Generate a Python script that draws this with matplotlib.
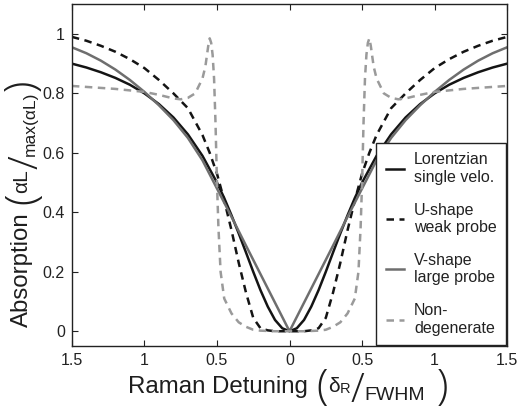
import numpy as np
import matplotlib
matplotlib.use('Agg')
import matplotlib.pyplot as plt
from matplotlib import font_manager
from matplotlib.transforms import IdentityTransform

# positive half only (curves are symmetric in detuning)
x_lor = [0, 0.05, 0.1, 0.15, 0.2, 0.25, 0.3, 0.35, 0.4, 0.45, 0.5, 0.6, 0.7, 0.8, 0.9,
         1.0, 1.1, 1.2, 1.3, 1.4, 1.5]
y_lor = [0, 0.01, 0.038, 0.083, 0.138, 0.2, 0.265, 0.329, 0.39, 0.448, 0.5, 0.59, 0.662,
         0.719, 0.764, 0.8, 0.829, 0.852, 0.871, 0.887, 0.9]

x_u = [0, 0.1, 0.15, 0.2, 0.25, 0.3, 0.35, 0.4, 0.45, 0.5, 0.55, 0.6, 0.7, 0.8, 0.9,
       1.0, 1.1, 1.2, 1.3, 1.4, 1.5]
y_u = [0, 0, 0.003, 0.01, 0.045, 0.13, 0.23, 0.34, 0.44, 0.53, 0.6, 0.66, 0.75, 0.8,
       0.845, 0.885, 0.915, 0.94, 0.96, 0.977, 0.99]

x_v = [0, 0.1, 0.2, 0.3, 0.4, 0.5, 0.6, 0.7, 0.8, 0.9, 1.0, 1.1, 1.2, 1.3, 1.4, 1.5]
y_v = [0, 0.096, 0.192, 0.288, 0.385, 0.48, 0.575, 0.65, 0.71, 0.76, 0.805, 0.845,
       0.88, 0.91, 0.935, 0.955]

x_nd = [0, 0.1, 0.2, 0.25, 0.3, 0.35, 0.4, 0.45, 0.475, 0.49, 0.5, 0.51, 0.52, 0.53,
        0.54, 0.55, 0.56, 0.58, 0.6, 0.65, 0.7, 0.75, 0.8, 0.9, 1.0, 1.2, 1.5]
y_nd = [0, 0, 0.002, 0.005, 0.015, 0.03, 0.06, 0.11, 0.2, 0.35, 0.5, 0.7, 0.85, 0.93,
        0.97, 0.985, 0.96, 0.89, 0.85, 0.8, 0.785, 0.78, 0.783, 0.795, 0.805, 0.815, 0.825]

labels = ['Lorentzian\nsingle velo.', 'U-shape\nweak probe',
          'V-shape\nlarge probe', 'Non-\ndegenerate']

x_ticks = [-1.5, -1, -0.5, 0, 0.5, 1, 1.5]
x_ticklabels = ['1.5', '1', '0.5', '0', '0.5', '1', '1.5']
y_ticks = [0, 0.2, 0.4, 0.6, 0.8, 1]
y_ticklabels = ['0', '0.2', '0.4', '0.6', '0.8', '1']

# axis labels as pieces: (text, fontsize, raise in px, thin?); plain numbers are gaps in px
xlabel_parts = [('Raman Detuning', 17.3, 0, False), 9, ('(', 30, -6, True),
                ('δ', 15, 1, False), ('R', 10.5, 0, False), ('/', 29, -9, True),
                ('FWHM', 14, -7, False), 12, (')', 30, -6, True)]
ylabel_parts = [('Absorption', 17.3, 0, False), 8, ('(', 30, -6, True),
                ('αL', 15, 1, False), ('/', 29, -9, True), ('max(αL)', 12.5, -7, False),
                0, (')', 30, -6, True)]


def mirror(xs, ys):
    xs = np.asarray(xs, float)
    ys = np.asarray(ys, float)
    return (np.concatenate([-xs[:0:-1], xs]), np.concatenate([ys[:0:-1], ys]))


def pick_thin_font():
    # a light (weight 300) sans face for the tall, thin brackets
    found = {(f.name, f.weight) for f in font_manager.fontManager.ttflist
             if f.style == 'normal'}
    for name in ['Open Sans', 'Roboto', 'Noto Sans', 'Inter', 'Lato']:
        if (name, 300) in found:
            return dict(family=name, fontweight=300)
    return dict(family='Liberation Sans', fontweight='normal')


def draw_label(fig, parts, x0, y0, vertical=False, color='#1e1e1e'):
    # lay out text pieces one after another, in display pixels
    renderer = fig.canvas.get_renderer()
    thin = pick_thin_font()
    pos = 0.0
    for p in parts:
        if not isinstance(p, tuple):
            pos += p
            continue
        s, size, off, is_thin = p
        kw = dict(fontsize=size)
        if is_thin:
            kw.update(thin)
        tmp = fig.text(0, 0, s, transform=IdentityTransform(), **kw)
        w = tmp.get_window_extent(renderer).width
        tmp.remove()
        if vertical:
            fig.text(x0 - off, y0 + pos, s, color=color, rotation=90,
                     rotation_mode='anchor', ha='left', va='baseline',
                     transform=IdentityTransform(), **kw)
        else:
            fig.text(x0 + pos, y0 + off, s, color=color, ha='left', va='baseline',
                     transform=IdentityTransform(), **kw)
        pos += w


plt.rcParams['font.family'] = ['Liberation Sans', 'DejaVu Sans']

fig = plt.figure(figsize=(5.17, 4.17), dpi=100)
ax = fig.add_axes([0.139, 0.170, 0.842, 0.820])

l1, = ax.plot(*mirror(x_lor, y_lor), color='#141414', lw=1.8)
l2, = ax.plot(*mirror(x_u, y_u), color='#141414', lw=1.8, ls=(0, (3, 2.2)))
l3, = ax.plot(*mirror(x_v, y_v), color='#6e6e6e', lw=1.8)
l4, = ax.plot(*mirror(x_nd, y_nd), color='#9a9a9a', lw=1.8, ls=(0, (3, 2.2)))

ax.set_xlim(-1.5, 1.5)
ax.set_ylim(-0.05, 1.1)
ax.set_xticks(x_ticks)
ax.set_xticklabels(x_ticklabels)
ax.set_yticks(y_ticks)
ax.set_yticklabels(y_ticklabels)
ax.tick_params(direction='in', top=True, right=True, length=4, labelsize=11.5,
               width=0.8, color='#222222', labelcolor='#222222', pad=5)
for sp in ax.spines.values():
    sp.set_linewidth(1.0)
    sp.set_color('#222222')

leg = ax.legend([l1, l2, l3, l4], labels, loc='lower right',
                bbox_to_anchor=(0.998, 0.003), borderaxespad=0,
                prop={'size': 11.5}, handlelength=1.15, handletextpad=0.6,
                labelspacing=1.12, borderpad=0.6, fancybox=False, framealpha=1,
                edgecolor='#222222')
leg.get_frame().set_linewidth(1.0)
for t in leg.get_texts():
    t.set_color('#222222')

H = 417
draw_label(fig, xlabel_parts, 128, H - 393)
draw_label(fig, ylabel_parts, 28, H - 327, vertical=True)

fig.savefig('out.png', dpi=100)
